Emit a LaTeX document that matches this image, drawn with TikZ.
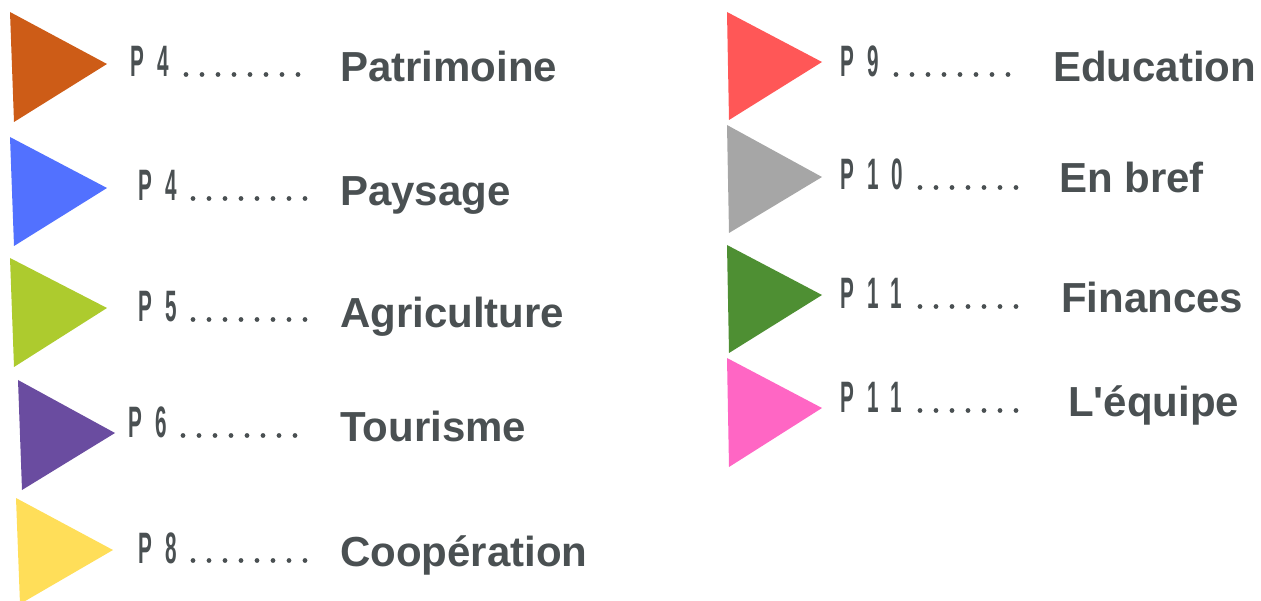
\documentclass[tikz,border=0pt]{standalone}
\usepackage{fontspec}
\setmainfont{Liberation Sans}[Ligatures=TeXOff]
\newfontfamily\pagefont{Liberation Sans}[FakeStretch=0.47,LetterSpace=30]

\definecolor{ink}{HTML}{4A5052}
\definecolor{patri}{HTML}{CD5C17}
\definecolor{paysage}{HTML}{5271FF}
\definecolor{agri}{HTML}{ADCB2E}
\definecolor{touri}{HTML}{6A4CA0}
\definecolor{coop}{HTML}{FFDE59}
\definecolor{educ}{HTML}{FF5757}
\definecolor{bref}{HTML}{A6A6A6}
\definecolor{fin}{HTML}{4E8F33}
\definecolor{equipe}{HTML}{FF66C4}

\tikzset{
  title/.style={anchor=base west,inner sep=0pt,text=ink,
    font=\fontsize{42}{42}\selectfont\bfseries},
  pagelabel/.style={anchor=base west,inner sep=0pt,text=ink,
    font=\pagefont\bfseries\fontsize{44}{44}\selectfont}
}

\begin{document}
\begin{tikzpicture}[x=1pt,y=-1pt]
\useasboundingbox (0,0) rectangle (1261,601);

% left column
\fill[patri] (10,12) -- (107,64) -- (14,122) -- cycle;
\node[pagelabel] (pg1) at (130,77) {P4};
\foreach \x in {0,...,7}
	\fill[ink] (186+\x*16,74.5) circle (2.4);
\node[title] (t1) at (340,82) {Patrimoine};

\fill[paysage] (10,137) -- (107,188) -- (14,246) -- cycle;
\node[pagelabel] (pg2) at (138,201) {P4};
\foreach \x in {0,...,7}
	\fill[ink] (193+\x*16,198.5) circle (2.4);
\node[title] (t2) at (340,206) {Paysage};

\fill[agri] (10,258) -- (107,308) -- (14,367) -- cycle;
\node[pagelabel] (pg3) at (138,322) {P5};
\foreach \x in {0,...,7}
	\fill[ink] (193+\x*16,319.5) circle (2.4);
\node[title] (t3) at (340,328) {Agriculture};

\fill[touri] (18,380) -- (115,433) -- (22,490) -- cycle;
\node[pagelabel] (pg4) at (128,438) {P6};
\foreach \x in {0,...,7}
	\fill[ink] (183+\x*16,435.5) circle (2.4);
\node[title] (t4) at (340,442) {Tourisme};

\fill[coop] (16,498) -- (113,550) -- (20,604) -- cycle;
\node[pagelabel] (pg5) at (138,563) {P8};
\foreach \x in {0,...,7}
	\fill[ink] (193+\x*16,560.5) circle (2.4);
\node[title] (t5) at (340,566) {Coopération};

% right column
\fill[educ] (727,12) -- (822,62) -- (729,120) -- cycle;
\node[pagelabel] (pg6) at (840,77) {P9};
\foreach \x in {0,...,7}
	\fill[ink] (896+\x*16,74.5) circle (2.4);
\node[title] (t6) at (1053,82) {Education};

\fill[bref] (727,125) -- (822,177) -- (729,233) -- cycle;
\node[pagelabel] (pg7) at (840,190) {P10};
\foreach \x in {0,...,6}
	\fill[ink] (920+\x*16,187.5) circle (2.4);
\node[title] (t7) at (1059,193) {En bref};

\fill[fin] (727,245) -- (822,295) -- (729,353) -- cycle;
\node[pagelabel] (pg8) at (840,309) {P11};
\foreach \x in {0,...,6}
	\fill[ink] (920+\x*16,306.5) circle (2.4);
\node[title] (t8) at (1061,313) {Finances};

\fill[equipe] (727,358) -- (822,408) -- (729,467) -- cycle;
\node[pagelabel] (pg9) at (840,413) {P11};
\foreach \x in {0,...,6}
	\fill[ink] (920+\x*16,410.5) circle (2.4);
\node[title] (t9) at (1068,417) {L'équipe};
\end{tikzpicture}
\end{document}
